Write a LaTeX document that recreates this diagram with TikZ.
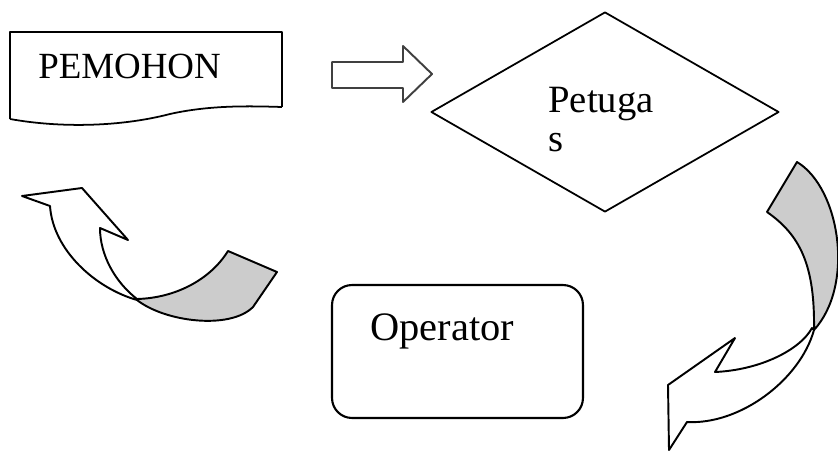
\documentclass[tikz,border=0pt]{standalone}
\usepackage{fontspec}
\setmainfont{Liberation Serif}
\usetikzlibrary{shapes.geometric,positioning}

\begin{document}
\begin{tikzpicture}[x=0.02cm,y=-0.02cm,line join=round,
  word/.style={font=\fontsize{21}{19}\selectfont,inner sep=0,align=left},
  ribbon/.style={draw,line width=1.1pt,fill=white},
  under/.style={draw,line width=1.1pt,fill=black!20}]
    \useasboundingbox (0,0) rectangle (838,453);

    \draw[line width=1.7pt] (10,119) -- (10,32) -- (282,32) -- (282,107);
    \draw[line width=1pt] (10,119) .. controls (60,128) and (120,127) .. (170,114)
          .. controls (210,105) and (250,106) .. (282,107);
    \node[word,anchor=base west](pemohon) at (38,78) {PEMOHON};

    \node[draw,diamond,minimum width=6.96cm,minimum height=4cm,inner sep=0,
          line width=1pt](petugas) at (605,112) {};
    \node[word,font=\fontsize{22}{19}\selectfont,anchor=north west](petugastext)
          at (548,87) {Petuga\\[3pt]s};

    \node[draw,rounded corners=0.4cm,minimum width=5.02cm,minimum height=2.66cm,
          line width=1.2pt](operator) at (457.5,351.5) {};
    \node[word,font=\fontsize{23}{23}\selectfont,anchor=base west](operatortext)
          at (370,340) {Operator};

    \draw[draw=black!75,line width=1.1pt,fill=white] (332,62) -- (403,62) -- (403,46)
          -- (432,74) -- (403,102) -- (403,88) -- (332,88) -- cycle;

    \draw[ribbon] (137,299) .. controls (115,282) and (100,255) .. (100,228)
          -- (128,240) -- (82,188) -- (22,196) -- (50,206)
          .. controls (53,250) and (95,288) .. (137,300);
    \draw[under] (137,299) .. controls (175,298) and (210,280) .. (228,251)
          -- (277,272) -- (253,307)
          .. controls (230,330) and (165,322) .. (137,300) -- cycle;

    \draw[ribbon] (812,328) .. controls (800,350) and (760,370) .. (715,372)
          -- (735,338) -- (668,385) -- (669,450) -- (687,422)
          .. controls (740,425) and (800,380) .. (814,330) -- cycle;
    \draw[under] (767,212) -- (797,162)
          .. controls (840,188) and (855,285) .. (814,330)
          .. controls (815,265) and (800,235) .. (767,212) -- cycle;

\end{tikzpicture}
\end{document}
